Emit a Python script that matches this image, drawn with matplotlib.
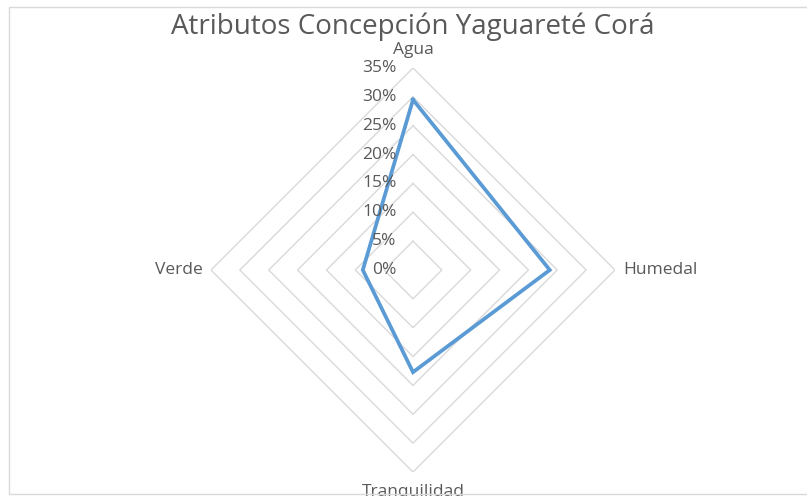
import numpy as np
import matplotlib
matplotlib.use("Agg")
import matplotlib.pyplot as plt
from matplotlib.patches import Rectangle

title = "Atributos Concepción Yaguareté Corá"
categories = ["Agua", "Humedal", "Tranquilidad", "Verde"]
values = [0.295, 0.237, 0.177, 0.087]
ticks = [0.0, 0.05, 0.10, 0.15, 0.20, 0.25, 0.30, 0.35]
tick_labels = ["0%", "5%", "10%", "15%", "20%", "25%", "30%", "35%"]

plt.rcParams['font.family'] = ['Open Sans', 'DejaVu Sans']
TXT = "#595959"
GRID = "#d9d9d9"
LINE = "#5b9bd5"

W, H = 807, 496
fig = plt.figure(figsize=(W / 100, H / 100), dpi=100)

cx, cy, R = 413, 270, 202
ax = fig.add_axes([(cx - R) / W, 1 - (cy + R) / H, 2 * R / W, 2 * R / H],
                  projection="polar")
ax.set_theta_offset(np.pi / 2)
ax.set_theta_direction(-1)
ax.set_ylim(0, ticks[-1])
ax.grid(False)
ax.spines["polar"].set_visible(False)
ax.set_xticks([])
ax.set_yticks([])
ax.patch.set_alpha(0)

n = len(categories)
angles = np.arange(n) * 2 * np.pi / n
closed = np.append(angles, angles[0])

for t in ticks[1:]:
    ax.plot(closed, [t] * (n + 1), color=GRID, lw=1.0, zorder=1)

vals = values + values[:1]
ax.plot(closed, vals, color=LINE, lw=2.7, solid_joinstyle="miter", zorder=3)

for t, lab in zip(ticks, tick_labels):
    ax.annotate(lab, xy=(0, t), xytext=(-12, 0), textcoords="offset points",
                ha="right", va="center", fontsize=12.5, color=TXT, zorder=4)

offsets = [((0, 7), "center", "bottom"),
           ((6, 0), "left", "center"),
           ((0, -9), "center", "top"),
           ((-6, 0), "right", "center")]
for a, lab, (off, ha, va) in zip(angles, categories, offsets):
    ax.annotate(lab, xy=(a, ticks[-1]), xytext=off, textcoords="offset points",
                ha=ha, va=va, fontsize=12.5, color=TXT, annotation_clip=False)

fig.text(cx / W, 1 - 27 / H, title, ha="center", va="center",
         fontsize=20, color=TXT)

fig.patches.append(Rectangle((9 / W, 1 - 494 / H), 1.0, (494 - 7) / H,
                             transform=fig.transFigure, fill=False,
                             edgecolor=GRID, lw=1.0))

fig.savefig("out.png", dpi=100)
